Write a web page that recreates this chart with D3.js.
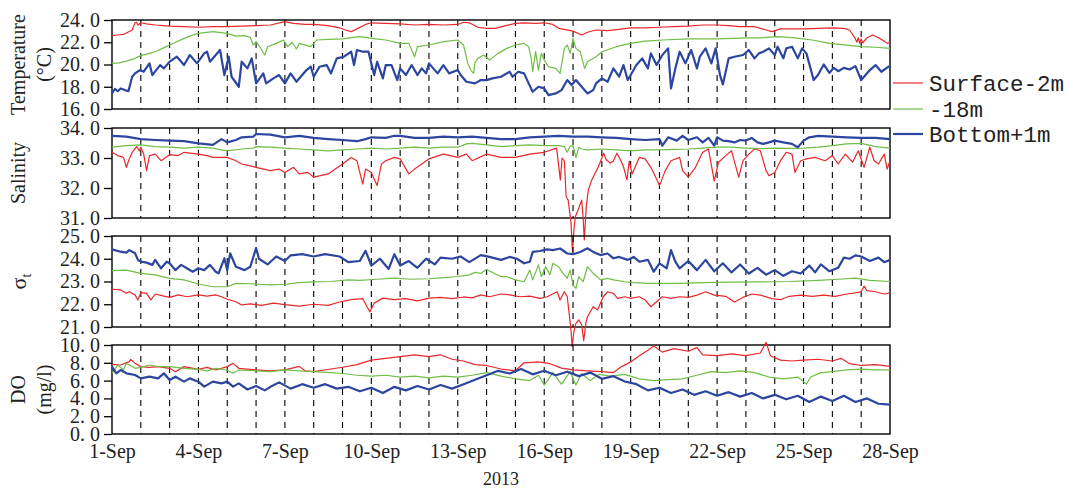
<!DOCTYPE html>
<html>
<head>
<meta charset="utf-8">
<script src="https://cdn.jsdelivr.net/npm/d3@7"></script>
<style>
  body { margin: 0; background: #fff; }
  svg { display: block; }
  .tick text { font-family: "Liberation Serif", "Times New Roman", serif; }
</style>
</head>
<body>
<svg id="chart" width="1069" height="488"></svg>
<script>
// ---- Mooring record, 1–28 Sep 2013 (times are days since 1 Sep 00:00) ----
const yearLabel = "2013";
const dateTickDays = [1, 4, 7, 10, 13, 16, 19, 22, 25, 28];
const seriesNames = ["Surface-2m", "-18m", "Bottom+1m"];
const seriesColors = ["#e8272b", "#6fbe45", "#2c46a0"];

const tempTicks = [16, 18, 20, 22, 24];
const salTicks = [31, 32, 33, 34];
const sigmaTicks = [21, 22, 23, 24, 25];
const doTicks = [0, 2, 4, 6, 8, 10];

// Temperature (°C)
const tempSurface = [[0,22.6],[0.2,22.65],[0.4,22.7],[0.55,22.9],[0.7,23.1],[0.8,23.75],[0.85,23.8],[0.9,23.55],[1.0,23.75],[1.2,23.65],[1.5,23.55],[1.8,23.5],[2.0,23.45],[2.5,23.4],[3.0,23.35],[3.5,23.4],[4.0,23.4],[4.5,23.45],[5.0,23.5],[5.5,23.55],[6.0,23.85],[6.3,23.7],[6.7,23.6],[7.0,23.6],[7.5,23.5],[7.9,23.3],[8.1,23.1],[8.3,22.95],[8.5,23.2],[8.8,23.6],[9.0,23.75],[9.5,23.7],[10.0,23.65],[10.5,23.55],[11.0,23.6],[11.5,23.55],[12.0,23.6],[12.2,23.8],[12.4,23.75],[12.7,23.35],[13.0,23.25],[13.3,23.25],[13.6,23.45],[14.0,23.7],[14.3,23.75],[14.7,23.7],[15.0,23.75],[15.3,23.6],[15.5,23.25],[15.7,23.15],[16.0,23.0],[16.3,22.65],[16.5,22.9],[16.8,23.1],[17.2,23.05],[17.6,23.15],[18.0,23.3],[18.5,23.3],[19.0,23.35],[19.5,23.4],[20.0,23.45],[20.5,23.55],[21.0,23.55],[21.4,23.5],[21.8,23.4],[22.3,23.4],[22.7,23.1],[22.9,22.95],[23.2,23.2],[23.6,23.2],[24.0,23.2],[24.5,23.25],[25.0,23.3],[25.4,23.25],[25.6,23.1],[25.8,22.3],[25.85,22.0],[25.9,22.4],[25.95,21.9],[26.0,22.3],[26.05,21.95],[26.2,22.4],[26.4,22.65],[26.6,22.4],[26.8,22.1],[26.9,21.9],[27.0,22.0]];
const tempMid = [[0,20.1],[0.25,20.15],[0.5,20.3],[0.75,20.5],[1.0,20.8],[1.25,20.95],[1.5,21.15],[1.75,21.45],[2.0,21.75],[2.25,22.05],[2.5,22.35],[2.75,22.6],[3.0,22.8],[3.5,22.95],[4.0,22.8],[4.3,22.55],[4.6,22.6],[4.8,22.45],[4.9,21.75],[5.0,22.05],[5.15,21.5],[5.3,20.85],[5.4,21.6],[5.7,21.9],[5.95,22.2],[6.1,21.6],[6.25,22.0],[6.4,21.4],[6.5,21.9],[6.9,21.6],[7.1,22.2],[7.5,22.25],[8.0,22.3],[8.6,22.5],[9.0,22.35],[9.5,22.2],[10.0,21.9],[10.3,21.9],[10.5,20.7],[10.6,21.6],[11.0,21.75],[11.5,22.05],[12.0,22.2],[12.2,21.75],[12.35,20.1],[12.45,19.5],[12.55,19.2],[12.6,20.2],[12.7,20.55],[12.9,20.85],[13.1,20.4],[13.4,21.0],[13.7,21.45],[14.0,21.75],[14.3,21.9],[14.46,21.6],[14.55,20.5],[14.6,19.35],[14.7,21.15],[14.8,19.5],[14.9,21.0],[15.0,20.4],[15.15,19.8],[15.4,19.65],[15.55,19.2],[15.7,21.45],[15.8,21.75],[15.9,21.0],[16.0,22.35],[16.1,21.45],[16.25,21.15],[16.4,19.65],[16.5,20.25],[16.8,20.7],[17.0,21.15],[17.5,21.6],[18.0,21.9],[18.5,22.1],[19.1,22.2],[20.0,22.3],[21.0,22.3],[22.0,22.4],[22.5,22.4],[23.1,22.5],[23.7,22.4],[24.3,22.2],[24.9,21.9],[25.5,21.75],[26.0,21.6],[26.5,21.55],[27.0,21.45]];
const tempBottom = [[0,17.4],[0.1,17.8],[0.2,17.6],[0.3,17.85],[0.45,17.7],[0.57,17.6],[0.7,18.9],[0.8,19.2],[0.97,19.5],[1.1,19.35],[1.3,20.1],[1.4,19.05],[1.67,19.95],[1.8,19.65],[2.0,20.25],[2.25,20.7],[2.5,19.95],[2.7,20.85],[2.95,20.1],[3.2,21.0],[3.3,21.15],[3.4,20.25],[3.6,20.85],[3.75,21.3],[3.9,19.05],[4.05,20.7],[4.15,18.9],[4.4,18.0],[4.5,20.25],[4.7,19.65],[4.85,20.55],[5.0,18.3],[5.25,19.2],[5.35,18.3],[5.6,18.75],[5.8,19.05],[6.0,18.3],[6.2,19.2],[6.4,18.45],[6.75,19.5],[6.9,19.8],[7.0,18.9],[7.2,19.8],[7.45,19.95],[7.6,19.2],[7.8,20.55],[8.05,20.7],[8.3,21.15],[8.4,19.95],[8.5,21.3],[8.7,21.15],[8.9,21.15],[9.1,19.05],[9.2,20.25],[9.4,18.75],[9.5,19.95],[9.7,19.95],[9.9,18.6],[10.0,19.65],[10.2,19.05],[10.4,19.95],[10.6,19.05],[10.75,19.65],[10.9,19.2],[11.0,20.1],[11.3,19.2],[11.5,19.95],[11.7,19.2],[12.0,19.5],[12.1,19.05],[12.3,18.45],[12.6,18.3],[12.8,18.6],[13.0,18.6],[13.2,18.75],[13.5,18.9],[13.8,19.35],[13.9,18.9],[14.1,19.35],[14.3,19.2],[14.46,18.3],[14.6,17.55],[14.8,18.0],[15.0,17.85],[15.15,17.25],[15.4,17.4],[15.6,17.7],[15.8,18.6],[15.95,18.15],[16.1,18.6],[16.3,18.0],[16.5,17.4],[16.7,17.7],[16.8,18.3],[17.0,18.75],[17.2,18.45],[17.4,19.65],[17.6,18.9],[17.75,19.95],[17.9,18.6],[18.2,19.95],[18.4,20.55],[18.6,19.65],[18.7,21.0],[18.9,19.95],[19.1,20.85],[19.3,21.45],[19.4,17.85],[19.55,19.65],[19.7,21.15],[19.9,20.1],[20.1,21.3],[20.3,19.65],[20.4,20.7],[20.6,21.45],[20.8,20.1],[20.95,21.45],[21.1,19.05],[21.2,18.2],[21.4,20.55],[21.6,20.7],[21.9,20.85],[22.1,21.3],[22.3,20.55],[22.45,21.0],[22.6,21.15],[22.8,21.45],[23.0,20.85],[23.1,21.6],[23.3,20.55],[23.4,21.45],[23.6,21.6],[23.8,20.55],[23.95,21.45],[24.1,21.0],[24.35,18.6],[24.5,19.05],[24.7,20.0],[24.9,19.25],[25.05,19.7],[25.2,19.4],[25.4,19.7],[25.6,19.55],[25.8,19.85],[26.0,18.6],[26.3,19.5],[26.5,19.95],[26.7,19.35],[27.0,19.9]];

// Salinity
const salSurface = [[0,33.19],[0.2,33.08],[0.4,33.02],[0.5,32.69],[0.6,32.97],[0.7,33.19],[0.85,33.38],[0.95,33.24],[1.0,33.36],[1.1,33.13],[1.2,32.58],[1.3,33.08],[1.5,33.13],[1.7,32.91],[2.0,33.11],[2.3,33.08],[2.5,33.19],[3.0,33.13],[3.3,33.08],[3.5,33.02],[4.0,33.02],[4.3,32.91],[4.5,32.8],[4.8,32.74],[5.0,32.69],[5.5,32.58],[5.8,32.63],[6.0,32.52],[6.3,32.69],[6.5,32.47],[6.8,32.52],[7.0,32.36],[7.5,32.47],[8.0,32.8],[8.3,33.02],[8.5,32.91],[8.7,32.13],[8.8,32.63],[9.0,32.52],[9.2,32.08],[9.35,32.8],[9.5,32.91],[9.8,33.02],[10.0,32.97],[10.3,32.47],[10.5,32.63],[11.0,32.97],[11.5,33.13],[12.0,33.02],[12.3,33.13],[12.5,32.91],[13.0,33.13],[13.5,33.02],[14.0,33.02],[14.5,33.13],[15.0,33.19],[15.43,33.33],[15.56,32.27],[15.62,33.0],[15.7,32.9],[15.76,31.71],[15.83,31.6],[15.93,30.83],[15.98,29.88],[16.03,30.6],[16.08,31.04],[16.2,31.33],[16.3,31.6],[16.35,31.0],[16.39,30.27],[16.46,31.38],[16.53,31.93],[16.65,32.27],[16.77,32.5],[16.88,32.71],[17.0,33.0],[17.06,33.16],[17.15,32.95],[17.29,32.83],[17.4,32.9],[17.52,33.16],[17.64,32.95],[17.75,32.71],[17.87,32.27],[17.95,32.9],[18.05,32.47],[18.3,33.02],[18.5,32.97],[18.7,32.69],[18.9,32.3],[19.0,32.08],[19.2,32.58],[19.4,32.91],[19.7,33.02],[19.8,32.58],[20.0,32.36],[20.25,32.69],[20.5,33.19],[20.7,33.3],[20.9,32.24],[21.05,32.86],[21.3,33.08],[21.5,33.24],[21.75,32.36],[21.9,32.91],[22.1,33.13],[22.3,33.3],[22.5,33.24],[22.7,32.58],[22.8,32.41],[23.0,32.52],[23.2,32.91],[23.4,33.19],[23.6,33.13],[23.7,32.52],[23.9,32.91],[24.1,32.97],[24.4,33.02],[24.75,32.91],[25.0,33.08],[25.2,32.8],[25.45,33.13],[25.7,32.86],[25.9,33.24],[26.1,32.69],[26.3,33.36],[26.45,32.91],[26.6,32.8],[26.8,33.13],[26.9,32.63],[27.0,32.91]];
const salMid = [[0,33.36],[0.5,33.41],[1.0,33.44],[1.5,33.38],[2.0,33.36],[2.5,33.33],[3.0,33.36],[3.5,33.33],[3.8,33.27],[4.0,33.24],[4.5,33.3],[4.9,33.33],[5.0,33.38],[5.5,33.36],[6.0,33.33],[6.5,33.3],[7.0,33.27],[7.5,33.24],[8.0,33.27],[8.5,33.3],[9.0,33.33],[9.5,33.3],[10.0,33.33],[10.5,33.36],[11.0,33.33],[11.5,33.36],[12.0,33.36],[12.3,33.47],[12.5,33.49],[13.0,33.44],[13.5,33.38],[14.0,33.41],[14.5,33.44],[15.0,33.41],[15.5,33.41],[15.7,33.38],[15.8,33.19],[15.9,33.4],[16.0,33.41],[16.1,33.02],[16.2,33.35],[16.3,33.3],[16.5,33.27],[17.0,33.3],[17.5,33.27],[18.0,33.24],[18.5,33.27],[19.0,33.27],[19.5,33.29],[20.0,33.3],[20.5,33.33],[21.0,33.36],[21.5,33.36],[22.0,33.33],[22.5,33.31],[23.0,33.33],[23.5,33.32],[24.0,33.33],[24.5,33.36],[25.0,33.41],[25.5,33.47],[26.0,33.49],[26.5,33.38],[27.0,33.33]];
const salBottom = [[0,33.74],[0.5,33.71],[1.0,33.63],[1.5,33.6],[2.0,33.58],[2.5,33.56],[3.0,33.49],[3.5,33.44],[3.8,33.63],[4.0,33.52],[4.3,33.6],[4.5,33.69],[4.9,33.71],[5.0,33.8],[5.5,33.78],[6.0,33.69],[6.5,33.74],[7.0,33.67],[7.5,33.63],[8.0,33.6],[8.5,33.56],[8.8,33.63],[9.0,33.69],[9.5,33.67],[9.8,33.74],[10.0,33.74],[10.5,33.67],[11.0,33.67],[11.5,33.71],[12.0,33.69],[12.5,33.71],[13.0,33.67],[13.5,33.63],[14.0,33.63],[14.5,33.69],[15.0,33.71],[15.5,33.74],[16.0,33.71],[16.5,33.71],[17.0,33.69],[17.5,33.67],[18.0,33.63],[18.5,33.6],[19.0,33.63],[19.1,33.41],[19.3,33.69],[19.6,33.58],[19.8,33.74],[20.0,33.6],[20.3,33.69],[20.5,33.52],[20.7,33.67],[20.9,33.41],[21.0,33.69],[21.2,33.58],[21.4,33.56],[21.6,33.52],[21.8,33.6],[22.0,33.58],[22.2,33.67],[22.4,33.52],[22.6,33.47],[22.8,33.52],[23.0,33.58],[23.3,33.52],[23.6,33.47],[23.8,33.36],[24.0,33.58],[24.2,33.69],[24.5,33.74],[25.0,33.71],[25.5,33.69],[26.0,33.67],[26.5,33.67],[27.0,33.63]];

// Density anomaly sigma-t
const sigmaSurface = [[0,22.66],[0.3,22.63],[0.5,22.48],[0.6,22.55],[0.8,22.41],[0.9,22.19],[1.0,22.51],[1.2,22.48],[1.35,22.19],[1.5,22.45],[1.8,22.36],[2.0,22.3],[2.3,22.41],[2.6,22.33],[3.0,22.41],[3.3,22.36],[3.6,22.41],[3.8,22.33],[4.0,22.22],[4.3,22.11],[4.5,21.97],[4.8,22.02],[5.2,21.95],[5.6,22.05],[6.0,21.98],[6.5,21.92],[7.0,22.0],[7.5,21.95],[7.9,22.1],[8.3,22.2],[8.7,22.25],[8.95,21.66],[9.1,22.05],[9.4,22.27],[9.8,22.2],[10.2,22.25],[10.6,22.15],[11.0,22.27],[11.4,22.3],[11.8,22.25],[12.2,22.32],[12.5,22.28],[12.8,22.41],[13.1,22.33],[13.5,22.45],[13.8,22.41],[14.15,22.33],[14.5,22.36],[14.85,22.26],[15.1,22.33],[15.45,22.55],[15.55,22.19],[15.7,22.55],[15.8,22.33],[15.85,21.75],[15.92,21.01],[15.97,20.15],[16.03,20.8],[16.1,21.16],[16.2,21.31],[16.3,21.1],[16.37,20.4],[16.45,21.2],[16.5,21.45],[16.7,21.89],[16.85,21.75],[17.05,22.33],[17.2,22.55],[17.4,22.48],[17.55,22.26],[17.8,22.33],[18.0,22.26],[18.3,22.33],[18.5,22.19],[18.7,21.89],[18.9,22.11],[19.1,22.33],[19.4,22.26],[19.7,22.33],[20.0,22.3],[20.3,22.4],[20.6,22.55],[20.9,22.4],[21.3,22.35],[21.6,22.1],[21.9,22.3],[22.2,22.45],[22.5,22.4],[22.9,22.25],[23.2,22.2],[23.5,22.35],[23.9,22.4],[24.3,22.35],[24.7,22.4],[25.1,22.35],[25.5,22.45],[25.8,22.5],[26.0,22.55],[26.1,22.8],[26.2,22.6],[26.5,22.55],[26.8,22.45],[27.0,22.5]];
const sigmaMid = [[0,23.48],[0.5,23.5],[1.0,23.36],[1.5,23.29],[2.0,23.14],[2.5,23.07],[3.0,22.89],[3.5,22.77],[4.0,22.77],[4.3,22.92],[4.8,22.9],[5.5,22.85],[6.0,22.88],[6.5,22.95],[7.0,22.98],[7.6,23.0],[8.2,23.07],[8.6,23.05],[9.2,23.1],[9.8,23.15],[10.4,23.1],[11.0,23.12],[11.4,23.16],[12.0,23.22],[12.4,23.29],[12.6,23.4],[12.8,23.36],[13.0,23.53],[13.25,23.36],[13.5,23.21],[13.7,23.21],[14.0,23.07],[14.3,22.99],[14.5,23.5],[14.6,23.07],[14.8,23.73],[14.9,23.21],[15.05,23.65],[15.2,23.29],[15.3,23.8],[15.5,23.65],[15.65,23.36],[15.8,23.14],[15.9,23.5],[16.0,22.85],[16.1,22.7],[16.2,23.21],[16.35,22.99],[16.5,23.65],[16.7,23.36],[16.95,23.07],[17.2,23.14],[17.4,23.07],[17.8,22.99],[18.1,22.95],[18.6,22.92],[19.7,22.92],[20.5,22.95],[21.5,22.97],[22.5,22.98],[23.5,23.0],[24.5,23.05],[25.2,23.1],[25.8,23.15],[26.3,23.05],[27.0,23.0]];
const sigmaBottom = [[0,24.41],[0.3,24.31],[0.5,24.27],[0.6,24.38],[0.8,24.24],[0.9,23.95],[1.0,23.87],[1.2,23.83],[1.4,23.73],[1.5,23.95],[1.7,23.58],[1.9,23.87],[2.0,23.8],[2.2,23.5],[2.4,23.73],[2.6,23.58],[2.8,23.43],[3.0,23.58],[3.2,23.5],[3.4,23.73],[3.6,23.43],[3.7,23.36],[3.9,24.02],[4.0,23.5],[4.1,24.24],[4.3,23.65],[4.6,23.5],[4.8,23.65],[5.0,24.47],[5.1,24.0],[5.4,23.75],[5.7,24.1],[6.0,23.9],[6.2,24.15],[6.6,24.2],[7.0,24.1],[7.4,24.2],[7.9,24.1],[8.2,23.85],[8.6,23.9],[8.8,24.35],[9.0,23.7],[9.3,24.0],[9.6,23.55],[9.8,24.2],[10.0,23.7],[10.3,23.9],[10.6,23.6],[10.9,24.0],[11.2,23.75],[11.4,24.05],[11.8,24.0],[12.1,24.1],[12.4,23.85],[12.8,24.16],[13.1,24.08],[13.5,23.95],[13.8,24.08],[14.05,24.0],[14.3,23.8],[14.5,23.87],[14.6,24.3],[14.85,24.34],[15.1,24.41],[15.3,24.38],[15.55,24.45],[15.8,24.23],[16.0,24.2],[16.25,24.3],[16.5,24.46],[16.7,24.3],[16.95,24.16],[17.2,24.23],[17.4,24.02],[17.6,24.08],[17.9,23.95],[18.1,24.08],[18.3,23.87],[18.6,23.95],[18.8,23.43],[19.0,23.8],[19.25,23.58],[19.4,24.38],[19.55,23.87],[19.7,23.58],[20.0,23.9],[20.3,23.5],[20.6,23.95],[20.9,23.45],[21.2,23.8],[21.5,23.4],[21.8,23.75],[22.1,23.35],[22.4,23.6],[22.7,23.3],[23.0,23.5],[23.3,23.25],[23.6,23.45],[23.9,23.35],[24.2,23.7],[24.4,23.4],[24.6,23.75],[24.9,23.45],[25.2,23.6],[25.4,24.05],[25.6,24.0],[25.8,24.15],[26.0,24.1],[26.3,23.9],[26.6,24.05],[26.8,23.85],[27.0,23.95]];

// Dissolved oxygen (mg/l)
const doSurface = [[0,7.83],[0.3,7.75],[0.6,8.13],[0.65,8.39],[0.8,7.94],[1.0,7.57],[1.3,7.49],[1.6,7.57],[2.0,7.38],[2.2,7.0],[2.5,7.57],[3.0,7.27],[3.3,7.49],[3.6,7.19],[4.0,7.57],[4.2,7.94],[4.4,7.38],[5.0,7.2],[5.5,7.1],[6.0,7.2],[6.5,7.6],[6.7,7.1],[7.0,7.0],[7.6,7.3],[8.0,7.5],[8.5,7.8],[9.0,8.3],[9.5,8.5],[10.0,8.7],[10.5,8.9],[11.0,8.7],[11.4,8.9],[11.8,8.4],[12.2,8.2],[12.6,7.8],[13.0,7.7],[13.5,7.3],[14.0,7.1],[14.3,8.0],[14.8,8.1],[15.2,7.9],[15.6,7.4],[16.0,7.2],[16.5,7.1],[17.0,7.0],[17.4,6.9],[17.7,7.6],[18.0,8.1],[18.3,8.8],[18.6,9.4],[18.8,9.9],[19.1,9.2],[19.5,9.6],[20.0,9.3],[20.3,9.7],[20.5,8.9],[21.0,8.8],[21.5,9.0],[22.0,8.8],[22.5,9.1],[22.7,10.3],[22.85,8.8],[23.2,8.3],[23.6,8.2],[24.0,8.3],[24.5,8.4],[25.0,8.2],[25.3,8.5],[25.6,7.9],[26.0,7.7],[26.5,7.8],[27.0,7.6]];
const doMid = [[0,6.82],[0.2,7.75],[0.4,7.19],[0.5,7.94],[0.8,7.38],[1.0,7.49],[1.3,7.75],[1.6,7.57],[2.0,7.57],[2.5,7.38],[3.0,7.27],[3.3,7.1],[3.6,7.38],[4.0,7.19],[4.2,6.82],[4.4,7.19],[5.0,7.1],[5.5,7.0],[6.0,7.2],[6.5,7.1],[7.0,7.0],[7.6,6.9],[8.0,6.8],[8.5,6.6],[9.0,6.5],[9.5,6.6],[10.0,6.4],[10.5,6.5],[11.0,6.3],[11.5,6.5],[12.0,6.4],[12.5,6.6],[13.0,6.9],[13.5,6.5],[14.0,6.2],[14.5,6.0],[14.8,6.6],[15.0,5.5],[15.3,6.9],[15.6,5.6],[15.9,7.0],[16.1,5.5],[16.3,6.8],[16.6,6.0],[16.9,6.7],[17.3,6.5],[17.8,6.7],[18.3,6.2],[18.8,6.0],[19.3,6.1],[19.8,6.2],[20.3,6.6],[20.8,7.0],[21.3,6.9],[21.8,7.1],[22.3,6.9],[22.8,6.4],[23.3,6.2],[23.8,6.4],[24.1,5.6],[24.25,6.4],[24.6,6.9],[25.0,7.0],[25.5,7.2],[26.0,7.3],[26.5,7.2],[27.0,7.2]];
const doBottom = [[0,7.57],[0.15,6.82],[0.3,7.19],[0.5,6.82],[0.8,6.63],[1.0,6.25],[1.3,6.44],[1.6,6.25],[1.8,6.82],[2.0,6.07],[2.2,6.44],[2.5,5.88],[2.7,6.25],[3.0,5.88],[3.2,5.32],[3.5,5.88],[3.8,5.69],[4.0,5.88],[4.2,5.32],[4.4,5.69],[4.7,5.0],[5.0,5.4],[5.3,4.9],[5.5,5.3],[5.8,5.8],[6.2,5.1],[6.6,5.6],[7.0,5.2],[7.4,5.6],[7.8,5.1],[8.2,5.3],[8.6,4.8],[9.0,5.2],[9.4,4.6],[9.8,5.3],[10.2,4.9],[10.6,5.4],[11.0,5.0],[11.4,5.5],[11.8,5.1],[12.2,5.6],[12.6,6.1],[13.0,6.6],[13.4,7.1],[13.8,6.8],[14.2,7.3],[14.6,6.7],[15.0,7.1],[15.4,6.6],[15.8,7.0],[16.2,6.5],[16.6,6.9],[17.0,6.2],[17.4,6.5],[17.8,5.9],[18.2,5.6],[18.6,4.9],[19.0,5.2],[19.4,4.6],[19.8,5.0],[20.2,4.4],[20.6,4.8],[21.0,4.3],[21.4,4.7],[21.8,4.2],[22.2,4.6],[22.6,4.0],[23.0,4.4],[23.4,3.9],[23.8,4.3],[24.2,3.6],[24.6,4.2],[25.0,3.7],[25.4,4.3],[25.8,3.6],[26.2,4.0],[26.6,3.4],[27.0,3.3]];

// ---- Layout ----
const svg = d3.select("#chart");
const plotLeft = 112, plotRight = 890;
const serif = "'Liberation Serif', 'Times New Roman', serif";
const dayMs = 86400000;
const t0 = Date.UTC(2013, 8, 1);
const toDate = d => new Date(t0 + d * dayMs);

const x = d3.scaleUtc()
  .domain([toDate(0), toDate(27)])
  .range([plotLeft, plotRight]);

const panels = [
  { top: 20,  bottom: 109, domain: [16, 24], ticks: tempTicks,  title: ["Temperature", "(°C)"], series: [tempSurface, tempMid, tempBottom] },
  { top: 128, bottom: 218, domain: [31, 34], ticks: salTicks,   title: ["Salinity"],            series: [salSurface, salMid, salBottom] },
  { top: 236, bottom: 327, domain: [21, 25], ticks: sigmaTicks, title: ["sigma"],               series: [sigmaSurface, sigmaMid, sigmaBottom] },
  { top: 345, bottom: 434, domain: [0, 10],  ticks: doTicks,    title: ["DO", "(mg/l)"],        series: [doSurface, doMid, doBottom] }
];

const lineWidths = [1.2, 1.2, 2.2];
const interiorDays = d3.range(1, 27);
const tickFmt = v => v.toFixed(1).replace(".", ". ");

panels.forEach((p, pi) => {
  const y = d3.scaleLinear().domain(p.domain).range([p.bottom, p.top]);
  const g = svg.append("g");

  // daily dashed grid
  g.selectAll("line.day").data(interiorDays).join("line")
    .attr("x1", d => x(toDate(d))).attr("x2", d => x(toDate(d)))
    .attr("y1", p.top).attr("y2", p.bottom)
    .attr("stroke", "#000").attr("stroke-width", 1.1)
    .attr("stroke-dasharray", "6,5");

  // frame
  g.append("rect")
    .attr("x", plotLeft).attr("y", p.top)
    .attr("width", plotRight - plotLeft).attr("height", p.bottom - p.top)
    .attr("fill", "none").attr("stroke", "#000").attr("stroke-width", 1.4);

  // left axis
  const ax = g.append("g").attr("transform", `translate(${plotLeft},0)`)
    .call(d3.axisLeft(y).tickValues(p.ticks).tickFormat(tickFmt).tickSize(8).tickPadding(4));
  ax.select(".domain").remove();
  ax.selectAll(".tick line").attr("stroke", "#000").attr("stroke-width", 1.3);
  ax.selectAll(".tick text").attr("font-size", 20).attr("fill", "#222").attr("font-family", serif);

  // series
  const line = d3.line().x(d => x(toDate(d[0]))).y(d => y(d[1]));
  p.series.forEach((s, si) => {
    g.append("path").datum(s)
      .attr("d", line)
      .attr("fill", "none")
      .attr("stroke", seriesColors[si])
      .attr("stroke-width", lineWidths[si])
      .attr("stroke-linejoin", "round");
  });

  // y title
  const cy = (p.top + p.bottom) / 2;
  if (p.title[0] === "sigma") {
    const t = svg.append("text")
      .attr("transform", `translate(26,${cy}) rotate(-90)`)
      .attr("text-anchor", "middle")
      .attr("font-family", serif).attr("font-size", 22).attr("fill", "#222");
    t.append("tspan").text("σ");
    t.append("tspan").attr("font-size", 14).attr("dy", 5).text("t");
  } else {
    p.title.forEach((line, li) => {
      svg.append("text")
        .attr("transform", `translate(${25 + li * 26},${cy}) rotate(-90)`)
        .attr("text-anchor", "middle")
        .attr("font-family", serif).attr("font-size", 20).attr("fill", "#222")
        .text(line);
    });
  }

  // date axis on the bottom panel
  if (pi === panels.length - 1) {
    const bx = svg.append("g").attr("transform", `translate(0,${p.bottom})`)
      .call(d3.axisBottom(x).tickValues(dateTickDays.map(d => toDate(d - 1)))
        .tickFormat(d => `${d.getUTCDate()}-Sep`).tickSize(0).tickPadding(10));
    bx.select(".domain").remove();
    bx.selectAll(".tick text").attr("font-size", 20).attr("fill", "#222").attr("font-family", serif);

    svg.append("text")
      .attr("x", (plotLeft + plotRight) / 2).attr("y", 485)
      .attr("text-anchor", "middle")
      .attr("font-family", serif).attr("font-size", 18).attr("fill", "#222")
      .text(yearLabel);
  }
});

// legend
const legendY = [83, 109, 134];
const lg = svg.append("g");
seriesNames.forEach((name, i) => {
  lg.append("line")
    .attr("x1", 893).attr("x2", 923)
    .attr("y1", legendY[i]).attr("y2", legendY[i])
    .attr("stroke", seriesColors[i]).attr("stroke-width", i === 2 ? 2.2 : 1.2);
  lg.append("text")
    .attr("x", 929).attr("y", legendY[i] + 8)
    .attr("font-family", "'Liberation Mono', 'DejaVu Sans Mono', monospace")
    .attr("font-size", 22.5).attr("fill", "#222")
    .text(name);
});
</script>
</body>
</html>
